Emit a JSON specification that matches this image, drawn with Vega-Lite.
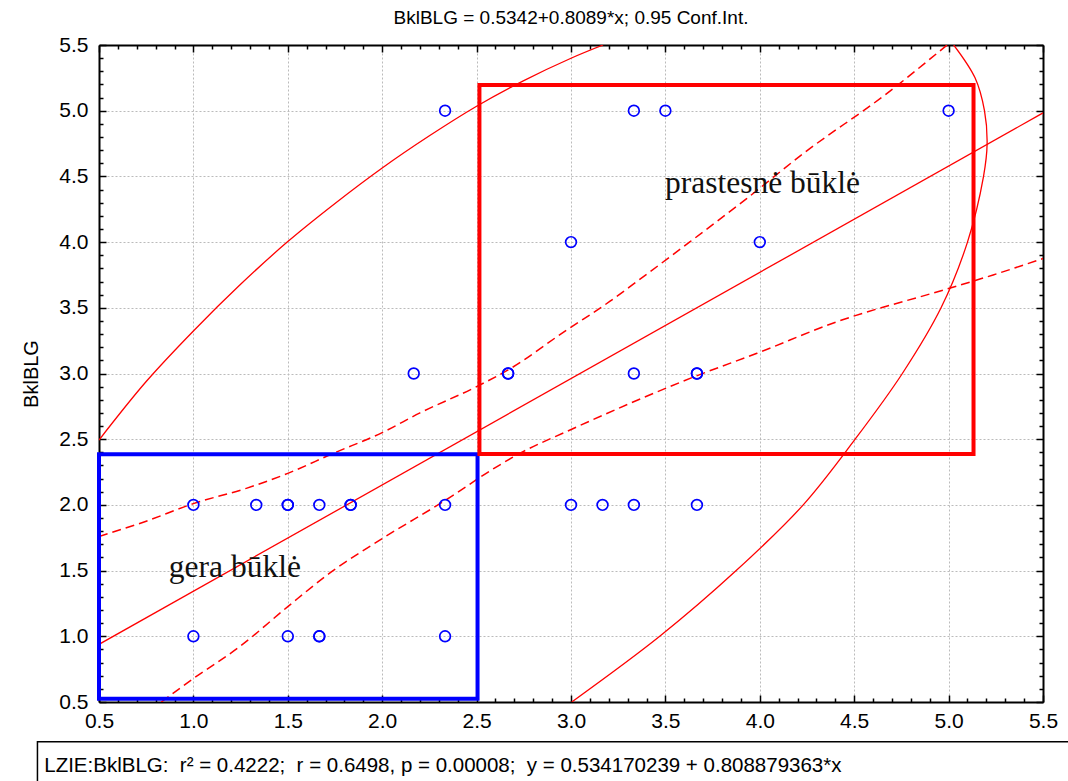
{
  "$schema": "https://vega.github.io/schema/vega-lite/v6.json",
  "width": 944,
  "height": 657,
  "autosize": {"type": "none"},
  "padding": {"left": 99, "top": 45, "right": 25, "bottom": 79},
  "background": "white",
  "title": {"text": "BklBLG = 0.5342+0.8089*x; 0.95 Conf.Int.", "font": "Liberation Sans", "fontSize": 19, "fontWeight": "normal", "color": "#000000", "offset": 6, "anchor": "middle"},
  "config": {"view": {"stroke": null}, "font": "Liberation Sans"},
  "datasets": {
    "points": [
      {"x": 1.0, "y": 2}, {"x": 1.333, "y": 2}, {"x": 1.5, "y": 2}, {"x": 1.5, "y": 2}, {"x": 1.667, "y": 2}, {"x": 1.833, "y": 2}, {"x": 1.833, "y": 2}, {"x": 2.333, "y": 2},
      {"x": 3.0, "y": 2}, {"x": 3.167, "y": 2}, {"x": 3.333, "y": 2}, {"x": 3.667, "y": 2},
      {"x": 1.0, "y": 1}, {"x": 1.5, "y": 1}, {"x": 1.667, "y": 1}, {"x": 1.667, "y": 1}, {"x": 2.333, "y": 1},
      {"x": 2.167, "y": 3}, {"x": 2.667, "y": 3}, {"x": 2.667, "y": 3}, {"x": 3.333, "y": 3}, {"x": 3.667, "y": 3}, {"x": 3.667, "y": 3},
      {"x": 3.0, "y": 4}, {"x": 4.0, "y": 4},
      {"x": 2.333, "y": 5}, {"x": 3.333, "y": 5}, {"x": 3.5, "y": 5}, {"x": 5.0, "y": 5}
    ],
    "ellipse": [
      {"arc": "L", "i": 0, "x": 0.5, "y": 2.494},
      {"arc": "L", "i": 1, "x": 0.75, "y": 2.939},
      {"arc": "L", "i": 2, "x": 1.0, "y": 3.324},
      {"arc": "L", "i": 3, "x": 1.25, "y": 3.679},
      {"arc": "L", "i": 4, "x": 1.5, "y": 4.004},
      {"arc": "L", "i": 5, "x": 1.75, "y": 4.294},
      {"arc": "L", "i": 6, "x": 2.0, "y": 4.564},
      {"arc": "L", "i": 7, "x": 2.25, "y": 4.809},
      {"arc": "L", "i": 8, "x": 2.5, "y": 5.034},
      {"arc": "L", "i": 9, "x": 2.75, "y": 5.229},
      {"arc": "L", "i": 10, "x": 3.0, "y": 5.399},
      {"arc": "L", "i": 11, "x": 3.17, "y": 5.5},
      {"arc": "R", "i": 0, "x": 5.027, "y": 5.5},
      {"arc": "R", "i": 1, "x": 5.14, "y": 5.25},
      {"arc": "R", "i": 2, "x": 5.19, "y": 5.0},
      {"arc": "R", "i": 3, "x": 5.204, "y": 4.75},
      {"arc": "R", "i": 4, "x": 5.185, "y": 4.5},
      {"arc": "R", "i": 5, "x": 5.1, "y": 4.0},
      {"arc": "R", "i": 6, "x": 4.96, "y": 3.5},
      {"arc": "R", "i": 7, "x": 4.755, "y": 3.0},
      {"arc": "R", "i": 8, "x": 4.505, "y": 2.5},
      {"arc": "R", "i": 9, "x": 4.23, "y": 2.0},
      {"arc": "R", "i": 10, "x": 3.875, "y": 1.5},
      {"arc": "R", "i": 11, "x": 3.47, "y": 1.0},
      {"arc": "R", "i": 12, "x": 3.004, "y": 0.5}
    ],
    "bands": [
      {"band": "upper", "i": 0, "x": 0.5, "y": 1.76},
      {"band": "upper", "i": 1, "x": 0.75, "y": 1.876},
      {"band": "upper", "i": 2, "x": 1.0, "y": 2.01},
      {"band": "upper", "i": 3, "x": 1.28, "y": 2.126},
      {"band": "upper", "i": 4, "x": 1.5, "y": 2.24},
      {"band": "upper", "i": 5, "x": 1.74, "y": 2.392},
      {"band": "upper", "i": 6, "x": 2.0, "y": 2.55},
      {"band": "upper", "i": 7, "x": 2.2, "y": 2.7},
      {"band": "upper", "i": 8, "x": 2.5, "y": 2.9},
      {"band": "upper", "i": 9, "x": 2.667, "y": 3.027},
      {"band": "upper", "i": 10, "x": 2.977, "y": 3.331},
      {"band": "upper", "i": 11, "x": 3.207, "y": 3.55},
      {"band": "upper", "i": 12, "x": 3.348, "y": 3.699},
      {"band": "upper", "i": 13, "x": 3.631, "y": 4.003},
      {"band": "upper", "i": 14, "x": 3.932, "y": 4.333},
      {"band": "upper", "i": 15, "x": 4.232, "y": 4.676},
      {"band": "upper", "i": 16, "x": 4.674, "y": 5.132},
      {"band": "upper", "i": 17, "x": 4.992, "y": 5.5},
      {"band": "lower", "i": 0, "x": 0.83, "y": 0.5},
      {"band": "lower", "i": 1, "x": 1.006, "y": 0.685},
      {"band": "lower", "i": 2, "x": 1.245, "y": 0.921},
      {"band": "lower", "i": 3, "x": 1.5, "y": 1.226},
      {"band": "lower", "i": 4, "x": 1.74, "y": 1.5},
      {"band": "lower", "i": 5, "x": 2.003, "y": 1.746},
      {"band": "lower", "i": 6, "x": 2.337, "y": 2.037},
      {"band": "lower", "i": 7, "x": 2.606, "y": 2.29},
      {"band": "lower", "i": 8, "x": 2.73, "y": 2.393},
      {"band": "lower", "i": 9, "x": 2.995, "y": 2.57},
      {"band": "lower", "i": 10, "x": 3.313, "y": 2.773},
      {"band": "lower", "i": 11, "x": 3.654, "y": 2.976},
      {"band": "lower", "i": 12, "x": 3.985, "y": 3.154},
      {"band": "lower", "i": 13, "x": 4.409, "y": 3.394},
      {"band": "lower", "i": 14, "x": 4.974, "y": 3.636},
      {"band": "lower", "i": 15, "x": 5.236, "y": 3.75},
      {"band": "lower", "i": 16, "x": 5.5, "y": 3.875}
    ],
    "fit": [
      {"x": 0.5, "y": 0.9387},
      {"x": 5.5, "y": 4.9831}
    ],
    "boxes": [
      {"box": "gera", "x": 0.5, "x2": 2.505, "y": 0.525, "y2": 2.385},
      {"box": "prastesne", "x": 2.515, "x2": 5.132, "y": 2.387, "y2": 5.196}
    ],
    "labels": [
      {"label": "gera būklė", "x": 0.87, "y": 1.455},
      {"label": "prastesnė būklė", "x": 3.498, "y": 4.376}
    ]
  },
  "resolve": {"axis": {"x": "independent", "y": "independent"}},
  "layer": [
    {
      "data": {"name": "ellipse"},
      "mark": {"type": "line", "color": "#ff0000", "strokeWidth": 1.3, "interpolate": "catmull-rom", "clip": true},
      "encoding": {
        "x": {"field": "x", "type": "quantitative", "scale": {"domain": [0.5, 5.5], "nice": false, "zero": false},
          "axis": {"orient": "bottom", "values": [0.5, 1, 1.5, 2, 2.5, 3, 3.5, 4, 4.5, 5, 5.5], "format": ".1f", "ticks": false, "tickSize": 0, "labelPadding": 8, "labelFont": "Liberation Sans", "labelFontSize": 21, "labelColor": "#000000", "labelFlush": false, "labelOverlap": false, "grid": true, "gridColor": "#bbbbbb", "gridDash": [2, 2], "gridWidth": 1, "domain": true, "domainColor": "#000000", "domainWidth": 2, "title": null}},
        "y": {"field": "y", "type": "quantitative", "scale": {"domain": [0.5, 5.5], "nice": false, "zero": false},
          "axis": {"orient": "left", "values": [0.5, 1, 1.5, 2, 2.5, 3, 3.5, 4, 4.5, 5, 5.5], "format": ".1f", "ticks": false, "tickSize": 0, "labelPadding": 11, "labelFont": "Liberation Sans", "labelFontSize": 21, "labelColor": "#000000", "labelFlush": false, "labelOverlap": false, "grid": true, "gridColor": "#bbbbbb", "gridDash": [2, 2], "gridWidth": 1, "domain": true, "domainColor": "#000000", "domainWidth": 2, "title": "BklBLG", "titleFont": "Liberation Sans", "titleFontSize": 20, "titleFontWeight": "normal", "titleColor": "#000000", "titlePadding": 17}},
        "detail": {"field": "arc", "type": "nominal"},
        "order": {"field": "i", "type": "quantitative"}
      }
    },
    {
      "data": {"name": "bands"},
      "mark": {"type": "line", "color": "#ff0000", "strokeWidth": 1.5, "strokeDash": [9, 5], "interpolate": "monotone", "clip": true},
      "encoding": {
        "x": {"field": "x", "type": "quantitative", "scale": {"domain": [0.5, 5.5], "nice": false, "zero": false},
          "axis": {"orient": "top", "values": [0.5,0.6,0.7,0.8,0.9,1,1.1,1.2,1.3,1.4,1.5,1.6,1.7,1.8,1.9,2,2.1,2.2,2.3,2.4,2.5,2.6,2.7,2.8,2.9,3,3.1,3.2,3.3,3.4,3.5,3.6,3.7,3.8,3.9,4,4.1,4.2,4.3,4.4,4.5,4.6,4.7,4.8,4.9,5,5.1,5.2,5.3,5.4,5.5], "labels": false, "grid": false, "ticks": true, "tickColor": "#000000", "tickWidth": 1.5, "tickSize": {"condition": {"test": "round(datum.value*10) % 5 == 0", "value": -7}, "value": -4}, "domain": true, "domainColor": "#000000", "domainWidth": 2, "title": null}},
        "y": {"field": "y", "type": "quantitative", "scale": {"domain": [0.5, 5.5], "nice": false, "zero": false},
          "axis": {"orient": "right", "values": [0.5,0.6,0.7,0.8,0.9,1,1.1,1.2,1.3,1.4,1.5,1.6,1.7,1.8,1.9,2,2.1,2.2,2.3,2.4,2.5,2.6,2.7,2.8,2.9,3,3.1,3.2,3.3,3.4,3.5,3.6,3.7,3.8,3.9,4,4.1,4.2,4.3,4.4,4.5,4.6,4.7,4.8,4.9,5,5.1,5.2,5.3,5.4,5.5], "labels": false, "grid": false, "ticks": true, "tickColor": "#000000", "tickWidth": 1.5, "tickSize": {"condition": {"test": "round(datum.value*10) % 5 == 0", "value": -7}, "value": -4}, "domain": true, "domainColor": "#000000", "domainWidth": 2, "title": null}},
        "detail": {"field": "band", "type": "nominal"},
        "order": {"field": "i", "type": "quantitative"}
      }
    },
    {
      "data": {"name": "fit"},
      "mark": {"type": "line", "color": "#ff0000", "strokeWidth": 1.3, "clip": true},
      "encoding": {
        "x": {"field": "x", "type": "quantitative", "scale": {"domain": [0.5, 5.5], "nice": false, "zero": false},
          "axis": {"orient": "bottom", "values": [0.5,0.6,0.7,0.8,0.9,1,1.1,1.2,1.3,1.4,1.5,1.6,1.7,1.8,1.9,2,2.1,2.2,2.3,2.4,2.5,2.6,2.7,2.8,2.9,3,3.1,3.2,3.3,3.4,3.5,3.6,3.7,3.8,3.9,4,4.1,4.2,4.3,4.4,4.5,4.6,4.7,4.8,4.9,5,5.1,5.2,5.3,5.4,5.5], "labels": false, "grid": false, "ticks": true, "tickColor": "#000000", "tickWidth": 1.5, "tickSize": {"condition": {"test": "round(datum.value*10) % 5 == 0", "value": -7}, "value": -4}, "domain": false, "title": null}},
        "y": {"field": "y", "type": "quantitative", "scale": {"domain": [0.5, 5.5], "nice": false, "zero": false},
          "axis": {"orient": "left", "values": [0.5,0.6,0.7,0.8,0.9,1,1.1,1.2,1.3,1.4,1.5,1.6,1.7,1.8,1.9,2,2.1,2.2,2.3,2.4,2.5,2.6,2.7,2.8,2.9,3,3.1,3.2,3.3,3.4,3.5,3.6,3.7,3.8,3.9,4,4.1,4.2,4.3,4.4,4.5,4.6,4.7,4.8,4.9,5,5.1,5.2,5.3,5.4,5.5], "labels": false, "grid": false, "ticks": true, "tickColor": "#000000", "tickWidth": 1.5, "tickSize": {"condition": {"test": "round(datum.value*10) % 5 == 0", "value": -7}, "value": -4}, "domain": false, "title": null}}
      }
    },
    {
      "data": {"values": [{}]},
      "mark": {"type": "rect", "fill": "#ffffff", "stroke": "#000000", "strokeWidth": 1.5, "clip": false},
      "encoding": {
        "x": {"datum": 0.174, "type": "quantitative", "scale": {"domain": [0.5, 5.5], "nice": false, "zero": false}, "axis": null},
        "x2": {"datum": 6.2},
        "y": {"datum": 0.198, "type": "quantitative", "scale": {"domain": [0.5, 5.5], "nice": false, "zero": false}, "axis": null},
        "y2": {"datum": -0.35}
      }
    },
    {
      "data": {"values": [{}]},
      "mark": {"type": "text", "text": "LZIE:BklBLG:\u00a0 r² = 0.4222;\u00a0 r = 0.6498, p = 0.00008;\u00a0 y = 0.534170239 + 0.808879363*x", "font": "Liberation Sans", "fontSize": 20.5, "color": "#000000", "align": "left", "baseline": "alphabetic", "clip": false},
      "encoding": {
        "x": {"datum": 0.21, "type": "quantitative", "scale": {"domain": [0.5, 5.5], "nice": false, "zero": false}, "axis": null},
        "y": {"datum": -0.03, "type": "quantitative", "scale": {"domain": [0.5, 5.5], "nice": false, "zero": false}, "axis": null}
      }
    },
    {
      "data": {"name": "boxes"},
      "mark": {"type": "rect", "fillOpacity": 0, "strokeWidth": 4, "clip": false},
      "encoding": {
        "x": {"field": "x", "type": "quantitative", "scale": {"domain": [0.5, 5.5], "nice": false, "zero": false}, "axis": null},
        "x2": {"field": "x2"},
        "y": {"field": "y", "type": "quantitative", "scale": {"domain": [0.5, 5.5], "nice": false, "zero": false}, "axis": null},
        "y2": {"field": "y2"},
        "stroke": {"field": "box", "type": "nominal", "scale": {"domain": ["gera", "prastesne"], "range": ["#0000ff", "#ff0000"]}, "legend": null}
      }
    },
    {
      "data": {"name": "points"},
      "mark": {"type": "point", "shape": "circle", "filled": false, "color": "#0000ff", "size": 115, "strokeWidth": 1.7, "opacity": 1},
      "encoding": {
        "x": {"field": "x", "type": "quantitative", "scale": {"domain": [0.5, 5.5], "nice": false, "zero": false}, "axis": null},
        "y": {"field": "y", "type": "quantitative", "scale": {"domain": [0.5, 5.5], "nice": false, "zero": false}, "axis": null}
      }
    },
    {
      "data": {"name": "labels"},
      "mark": {"type": "text", "font": "Liberation Serif", "fontSize": 31.5, "color": "#111111", "align": "left", "baseline": "alphabetic"},
      "encoding": {
        "x": {"field": "x", "type": "quantitative", "scale": {"domain": [0.5, 5.5], "nice": false, "zero": false}, "axis": null},
        "y": {"field": "y", "type": "quantitative", "scale": {"domain": [0.5, 5.5], "nice": false, "zero": false}, "axis": null},
        "text": {"field": "label", "type": "nominal"}
      }
    }
  ]
}
